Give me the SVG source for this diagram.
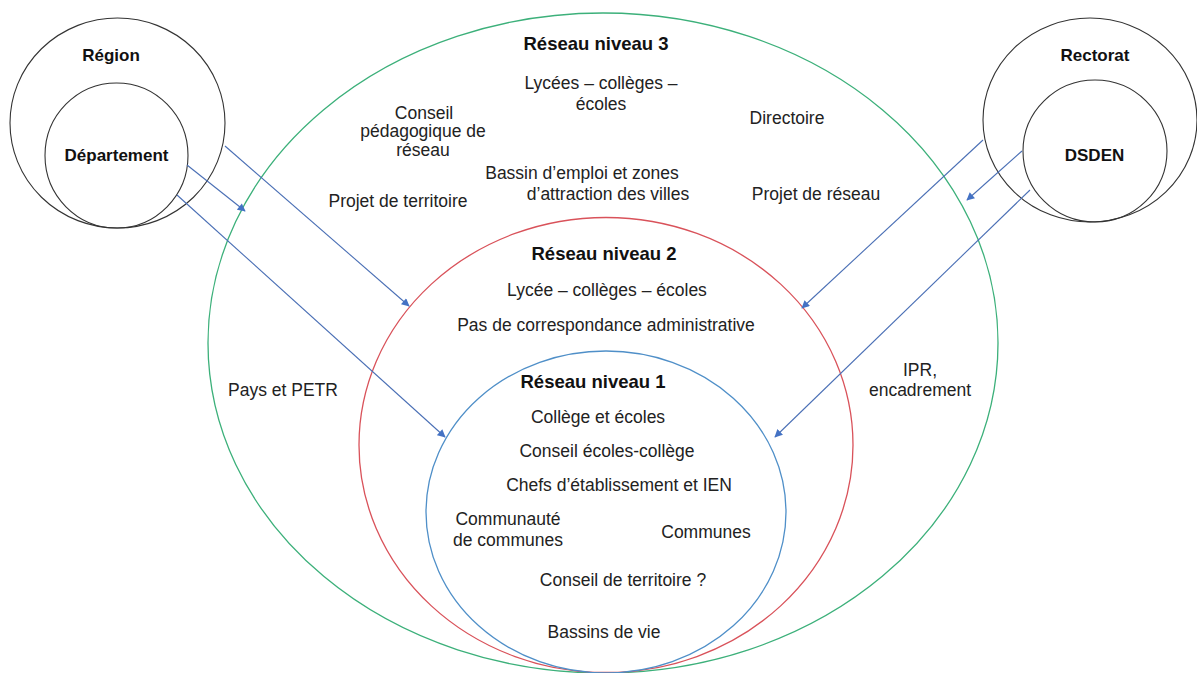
<svg xmlns="http://www.w3.org/2000/svg" width="1197" height="673" viewBox="0 0 1197 673">
<style>
.t{font-family:"Liberation Sans",Arial,sans-serif;font-size:17.5px;fill:#222;text-anchor:middle}
.b{font-family:"Liberation Sans",Arial,sans-serif;font-size:18.5px;font-weight:bold;fill:#111;text-anchor:middle}
.k{font-family:"Liberation Sans",Arial,sans-serif;font-size:17px;font-weight:bold;fill:#111;text-anchor:middle}
.c{fill:none;stroke:#333;stroke-width:1.1}
.a{stroke:#4a6fb5;stroke-width:1.1;fill:none}
</style>
<defs>
<marker id="ah" viewBox="0 0 10 10" refX="9" refY="5" markerWidth="9" markerHeight="8" markerUnits="userSpaceOnUse" orient="auto">
<path d="M0,0 L10,5 L0,10 z" fill="#4472c4"/>
</marker>
</defs>
<rect width="1197" height="673" fill="#fff"/>
<g id="niveau3">
<ellipse cx="603" cy="343" rx="395" ry="330" fill="none" stroke="#3cb07a" stroke-width="1.3"/>
<text class="b" x="596" y="50">Réseau niveau 3</text>
<text class="t" x="601" y="89">Lycées – collèges –</text>
<text class="t" x="601" y="110">écoles</text>
<text class="t" x="424" y="119">Conseil</text>
<text class="t" x="423" y="137">pédagogique de</text>
<text class="t" x="423" y="156">réseau</text>
<text class="t" x="787" y="124">Directoire</text>
<text class="t" x="582" y="179">Bassin d’emploi et zones</text>
<text class="t" x="608" y="200">d’attraction des villes</text>
<text class="t" x="398" y="207">Projet de territoire</text>
<text class="t" x="816" y="200">Projet de réseau</text>
<text class="t" x="283" y="396">Pays et PETR</text>
<text class="t" x="920" y="376">IPR,</text>
<text class="t" x="920" y="396">encadrement</text>
</g>
<g id="niveau2">
<ellipse cx="606" cy="445" rx="247" ry="227.5" fill="none" stroke="#d9525a" stroke-width="1.3"/>
<text class="b" x="604" y="260">Réseau niveau 2</text>
<text class="t" x="607" y="296">Lycée – collèges – écoles</text>
<text class="t" x="606" y="331">Pas de correspondance administrative</text>
</g>
<g id="niveau1">
<ellipse cx="606" cy="512" rx="180" ry="161" fill="none" stroke="#4f8fc8" stroke-width="1.3"/>
<text class="b" x="593" y="388">Réseau niveau 1</text>
<text class="t" x="598" y="423">Collège et écoles</text>
<text class="t" x="607" y="457">Conseil écoles-collège</text>
<text class="t" x="619" y="491">Chefs d’établissement et IEN</text>
<text class="t" x="508" y="525">Communauté</text>
<text class="t" x="508" y="546">de communes</text>
<text class="t" x="706" y="538">Communes</text>
<text class="t" x="623" y="586">Conseil de territoire ?</text>
<text class="t" x="604" y="638">Bassins de vie</text>
</g>
<g id="region">
<ellipse class="c" cx="117.5" cy="123" rx="107.5" ry="105"/>
<text class="k" x="111" y="61">Région</text>
</g>
<g id="departement">
<ellipse class="c" cx="116.5" cy="155.5" rx="71.5" ry="72.5"/>
<text class="k" x="116.5" y="161">Département</text>
</g>
<g id="rectorat">
<ellipse class="c" cx="1090" cy="120" rx="107" ry="102"/>
<text class="k" x="1095" y="61">Rectorat</text>
</g>
<g id="dsden">
<ellipse class="c" cx="1095" cy="151" rx="72" ry="71"/>
<text class="k" x="1094.5" y="161">DSDEN</text>
</g>
<g id="connectors">
<line class="a" x1="225" y1="146" x2="409" y2="306" marker-end="url(#ah)"/>
<line class="a" x1="187" y1="165" x2="245" y2="211" marker-end="url(#ah)"/>
<line class="a" x1="177" y1="195" x2="445" y2="437" marker-end="url(#ah)"/>
<line class="a" x1="983" y1="140" x2="802" y2="308" marker-end="url(#ah)"/>
<line class="a" x1="1022" y1="151" x2="967" y2="200" marker-end="url(#ah)"/>
<line class="a" x1="1030" y1="190" x2="775" y2="437" marker-end="url(#ah)"/>
</g>
</svg>
